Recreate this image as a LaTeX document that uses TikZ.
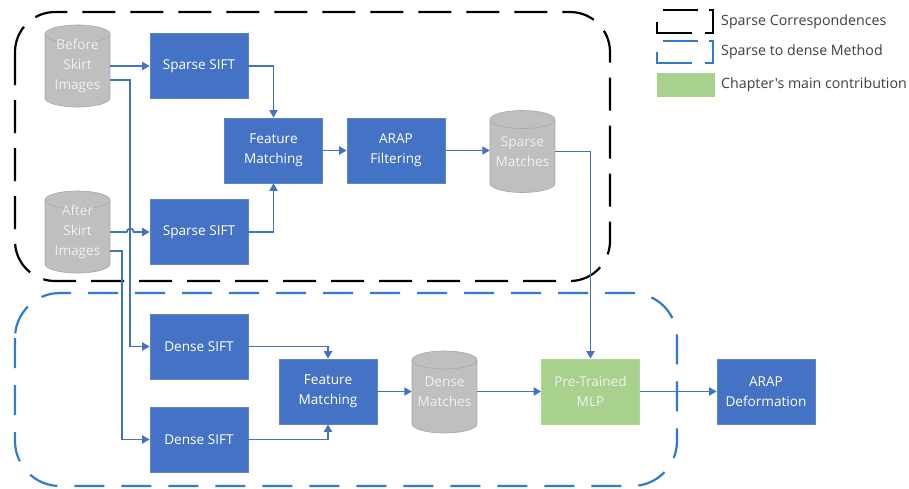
\documentclass[tikz,border=0pt]{standalone}
\usepackage{fontspec}
\setmainfont{Open Sans}[Ligatures=TeXOff]
\usetikzlibrary{arrows.meta}

\definecolor{boxblue}{HTML}{4472C4}
\definecolor{boxedge}{HTML}{5B85CF}
\definecolor{linkblue}{HTML}{4472C4}
\definecolor{dashblue}{HTML}{2F7BD0}
\definecolor{cylgray}{HTML}{BFBFBF}
\definecolor{cyledge}{HTML}{A9A9A9}
\definecolor{cyltext}{HTML}{F0F0F0}
\definecolor{mlpgreen}{HTML}{A9D18E}
\definecolor{legtext}{HTML}{404040}

% database drum: name, centre x, centre y, label
\newcommand{\drum}[4]{%
  \fill[cylgray] (#2-32.5,#3-32) rectangle (#2+32.5,#3+32);
  \fill[cylgray] (#2,#3+32) ellipse [x radius=32.5pt, y radius=9pt];
  \draw[cyledge, line width=0.6pt]
    (#2-32.5,#3-32) -- (#2-32.5,#3+32)
    arc [start angle=180, end angle=360, x radius=32.5pt, y radius=9pt]
    -- (#2+32.5,#3-32);
  \draw[cyledge, line width=0.6pt, fill=cylgray]
    (#2,#3-32) ellipse [x radius=32.5pt, y radius=9pt];
  \node[drumtext] (#1) at (#2,#3) {#4};
}

\begin{document}
\begin{tikzpicture}[x=1pt,y=-1pt,
  txt/.style={font=\fontsize{13.6}{20}\selectfont, align=center, inner sep=0pt},
  proc/.style={txt, rectangle, fill=boxblue, draw=boxedge, line width=0.6pt,
    text=white, minimum width=98pt, minimum height=65pt},
  mlpbox/.style={proc, fill=mlpgreen, draw=mlpgreen!90!white, text=cyltext},
  drumtext/.style={txt, text=cyltext, minimum width=65pt, minimum height=82pt},
  link/.style={draw=linkblue, line width=1.8pt, line join=miter,
    -{Triangle[length=7.5pt,width=8pt]}},
  blackgroup/.style={draw=black, line width=2.2pt, dash pattern=on 33pt off 15pt,
    rounded corners=40pt},
  bluegroup/.style={draw=dashblue, line width=2.2pt, dash pattern=on 30pt off 17pt,
    rounded corners=45pt},
  legline/.style={line width=1.5pt},
  legtxt/.style={font=\fontsize{14.2}{16}\selectfont, text=legtext, anchor=west, inner sep=0pt}
]
\useasboundingbox (0,0) rectangle (909,488);
\fill[white] (0,0) rectangle (909,488);

% group outlines
\draw[blackgroup] (15,12) rectangle (610,281);
\draw[bluegroup] (15,293) rectangle (677,486);

% image stores and sparse branch
\drum{bef}{77.5}{66}{Before\\Skirt\\Images}
\drum{aft}{77.5}{232}{After\\Skirt\\Images}
\node[proc] (ss1) at (199,66) {Sparse SIFT};
\node[proc] (ss2) at (199,232) {Sparse SIFT};
\node[proc] (fm1) at (273.5,150.5) {Feature\\Matching};
\node[proc] (arf) at (396,150.5) {ARAP\\Filtering};
\drum{sm}{522.5}{151.5}{Sparse\\Matches}

% dense branch
\node[proc] (ds1) at (199,346.5) {Dense SIFT};
\node[proc] (ds2) at (199,439.5) {Dense SIFT};
\node[proc] (fm2) at (328,391.5) {Feature\\Matching};
\drum{dm}{444.5}{392}{Dense\\Matches}
\node[mlpbox] (mlp) at (590.5,391.5) {Pre-Trained\\MLP};
\node[proc] (ard) at (766,391.5) {ARAP\\Deformation};

% connectors
\draw[link] (bef.east) -- (ss1.west);
\draw[link] ([yshift=-14pt]bef.east) -| ([xshift=-20pt]ds1.west) -- (ds1.west);
\draw[link] (aft.east) -- ++(16.5pt,0) arc [start angle=180, end angle=0, radius=3.5pt]
  -- (ss2.west);
\draw[link] ([yshift=-19pt]aft.east) -| ([xshift=-28pt]ds2.west) -- (ds2.west);
\draw[link] (ss1.east) -| (fm1.north);
\draw[link] (ss2.east) -| (fm1.south);
\draw[link] (fm1.east) -- (arf.west);
\draw[link] (arf.east) -- (sm.west |- arf.east);
\draw[link] (sm.east) -| (mlp.north);
\draw[link] (ds1.east) -| (fm2.north);
\draw[link] (ds2.east) -| (fm2.south);
\draw[link] (fm2.east) -- (dm.west |- fm2.east);
\draw[link] (dm.east |- mlp.west) -- (mlp.west);
\draw[link] (mlp.east) -- (ard.west);

% legend
\draw[legline, black] (663,10) -- (698,10);
\draw[legline, black] (709,10) -- (713,10) -- (713,33) -- (705,33);
\draw[legline, black] (692,33) -- (657,33) -- (657,22);
\node[legtxt] (lg1) at (721,22) {Sparse Correspondences};
\draw[legline, dashblue] (663,41) -- (698,41);
\draw[legline, dashblue] (709,41) -- (713,41) -- (713,63) -- (705,63);
\draw[legline, dashblue] (692,63) -- (657,63) -- (657,52);
\node[legtxt] (lg2) at (721,52) {Sparse to dense Method};
\fill[mlpgreen] (657,73) rectangle (715,97);
\node[legtxt] (lg3) at (721,85) {Chapter's main contribution};
\end{tikzpicture}
\end{document}
